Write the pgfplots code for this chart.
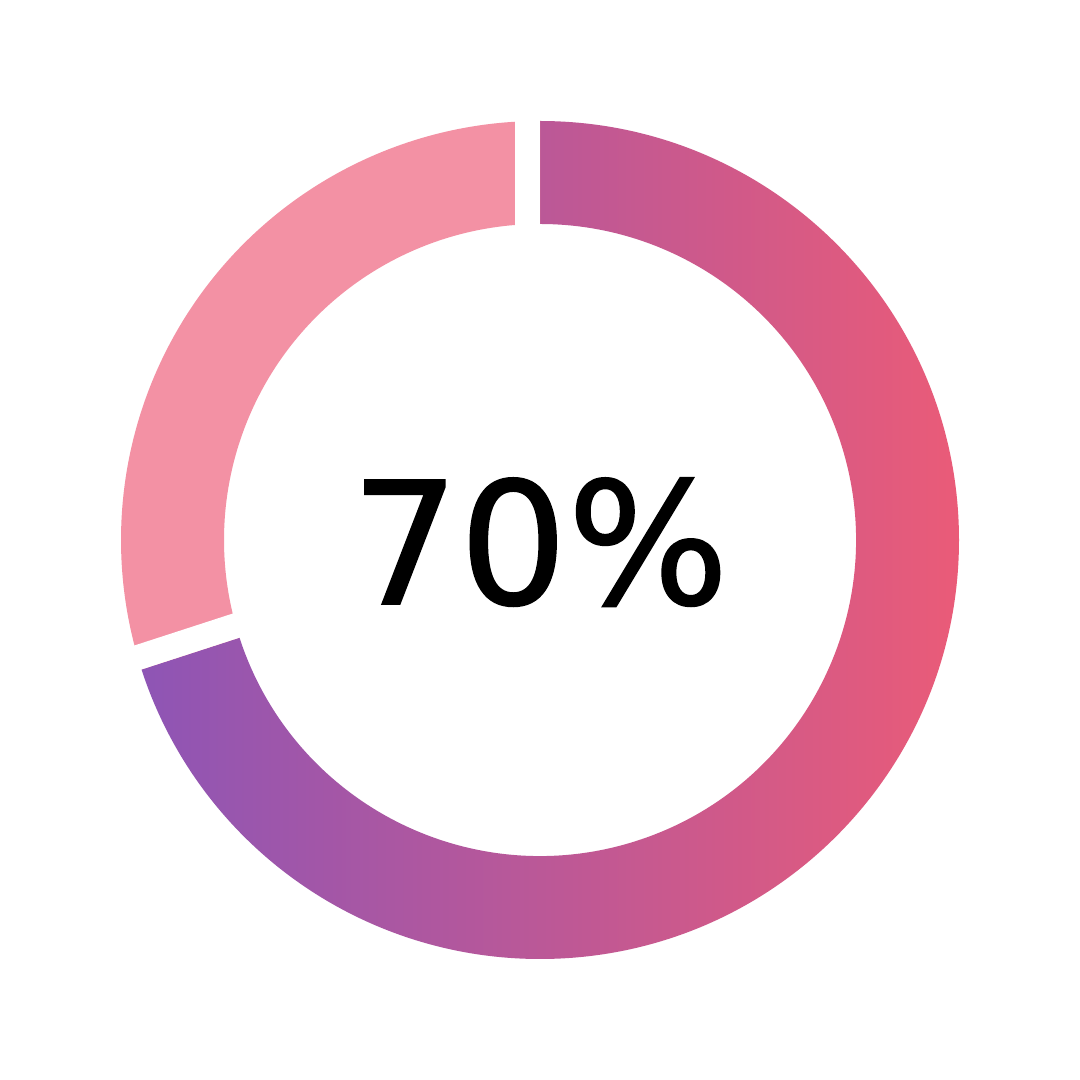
\documentclass[border=0pt]{standalone}
\usepackage{fontspec}
\usepackage{pgfplots}
\pgfplotsset{compat=1.18}
\newfontfamily\numfont{DejaVu Sans}[FakeBold=1]

\definecolor{restpink}{HTML}{F391A4}
\definecolor{gradleft}{HTML}{8E55B5}
\definecolor{gradright}{HTML}{EA5B78}

% share shown in the ring (percent)
\def\share{70}
\pgfmathsetmacro{\stopangle}{90-3.6*\share}  % -162, i.e. 198 deg
\def\rout{419}
\def\rin{316}
\def\gap{25}

\begin{document}
\begin{tikzpicture}
\begin{axis}[
    x=1pt, y=1pt,
    xmin=-540, xmax=540,
    ymin=-540, ymax=540,
    hide axis,
    clip=false,
]
\fill[white] (axis cs:-540,-540) rectangle (axis cs:540,540);

% filled share, gradient left to right
\shade[left color=gradleft, right color=gradright]
    (axis cs:0,\rout) arc[start angle=90, end angle=\stopangle, radius=\rout]
    -- (axis cs:{\rin*cos(\stopangle)},{\rin*sin(\stopangle)})
    arc[start angle=\stopangle, end angle=90, radius=\rin] -- cycle;

% remaining share
\fill[restpink]
    (axis cs:0,\rout) arc[start angle=90, end angle=360+\stopangle, radius=\rout]
    -- (axis cs:{\rin*cos(\stopangle)},{\rin*sin(\stopangle)})
    arc[start angle=360+\stopangle, end angle=90, radius=\rin] -- cycle;

% white gaps on the pink side of both boundaries
\fill[white] (axis cs:-\gap,300) rectangle (axis cs:0,430);
\fill[white]
    (axis cs:{300*cos(\stopangle)},{300*sin(\stopangle)})
    -- (axis cs:{430*cos(\stopangle)},{430*sin(\stopangle)})
    -- (axis cs:{430*cos(\stopangle)+\gap*sin(\stopangle)},{430*sin(\stopangle)-\gap*cos(\stopangle)})
    -- (axis cs:{300*cos(\stopangle)+\gap*sin(\stopangle)},{300*sin(\stopangle)-\gap*cos(\stopangle)})
    -- cycle;

\node[anchor=base, inner sep=0pt, font=\numfont\fontsize{170}{172}\selectfont]
    at (axis cs:0,-64) {\share\%};
\end{axis}
\end{tikzpicture}
\end{document}
